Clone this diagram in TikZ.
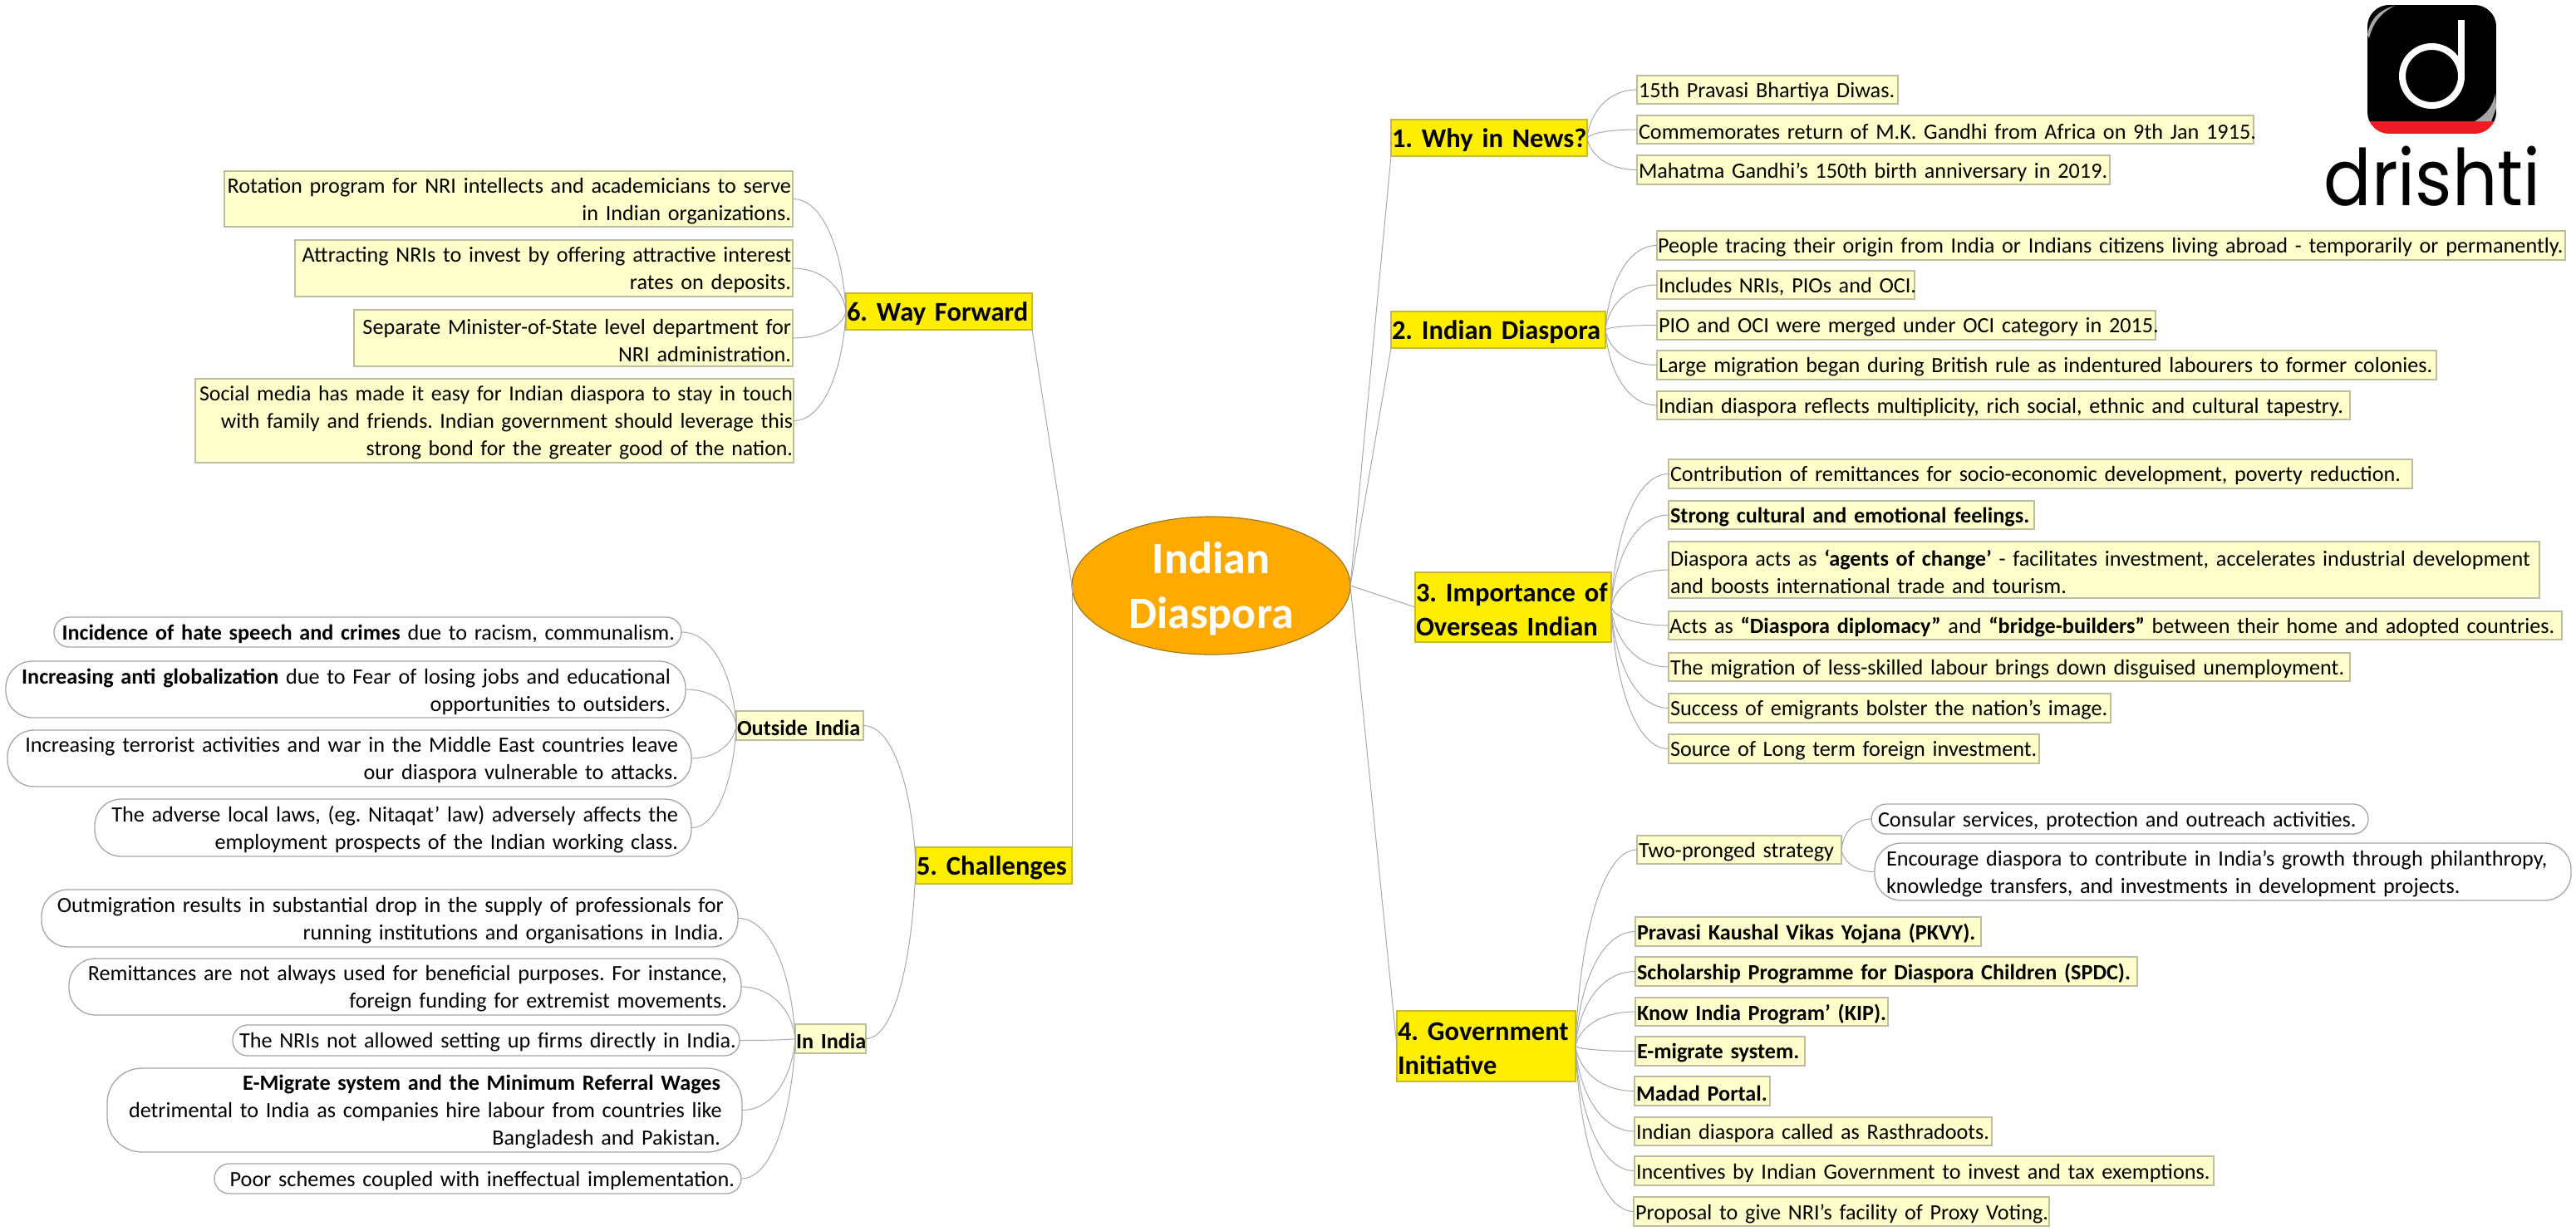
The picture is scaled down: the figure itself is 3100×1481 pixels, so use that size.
\documentclass[tikz,border=0pt]{standalone}
\usepackage{fontspec}
\setmainfont[WordSpace=0.9]{Carlito}
\newfontfamily\logofont{Poppins}
\usetikzlibrary{calc,shapes.geometric}
\definecolor{paleY}{HTML}{FFFFCC}
\definecolor{paleB}{HTML}{BDBD9F}
\definecolor{brY}{HTML}{FFEE00}
\definecolor{brB}{HTML}{C8B840}
\definecolor{rlB}{HTML}{A6A6A6}
\definecolor{lnk}{HTML}{A8A8A8}
\definecolor{orng}{HTML}{FFAA00}
\definecolor{orngB}{HTML}{9A7A20}
\definecolor{logoR}{HTML}{ED1C24}
\newcommand{\bx}[8]{%
  \pgfmathsetmacro\bxw{#5-#3-2*#7}%
  \node[#1,text width=\bxw pt,inner xsep=#7 pt,minimum height={(#6-#4)*1pt}] (#2) at ({(#3+#5)/2},{(#4+#6)/2}) {#8};}
\newcommand{\lkc}[2]{\draw[link] let \p1=(#1),\p2=(#2) in (\p1) .. controls ({\x1+0.05*(\x2-\x1)},{\y1+0.5*(\y2-\y1)}) and ({\x1+0.4*(\x2-\x1)},\y2) .. (\p2);}
\newcommand{\ml}[1]{\raisebox{-2.5pt}[\height][\depth]{\mbox{#1}}}
\tikzset{
  base/.style={inner ysep=0pt,outer sep=0pt,font=\fontsize{26.2}{33}\selectfont\frenchspacing,text=black},
  leaf/.style={base,draw=paleB,fill=paleY,line width=1.5pt},
  rleaf/.style={base,draw=rlB,fill=white,line width=1.3pt},
  branch/.style={base,draw=brB,fill=brY,line width=1.5pt,font=\fontsize{32.5}{41}\selectfont\bfseries\frenchspacing},
  link/.style={draw=lnk,line width=1pt},
}
\begin{document}
\begin{tikzpicture}[x=1pt,y=-1pt]
\useasboundingbox (0,0) rectangle (3100,1481);
% centre
\node[ellipse,draw=orngB,line width=1.2pt,fill=orng,minimum width=335pt,minimum height=166pt,inner sep=0pt,outer sep=0pt,text=white,align=center,text depth=0pt,font=\fontsize{54}{66}\selectfont\bfseries] (root) at (1457.5,705) {Indian\\Diaspora};
% branches
\bx{branch,align=left}{why}{1674}{144}{1910}{188}{1}{\ml{1. Why in News?}}
\bx{branch,align=left}{dia}{1674}{375}{1932}{419}{1}{\ml{2. Indian Diaspora}}
\bx{branch,align=left}{imp}{1703}{689}{1939}{773}{1}{\ml{3. Importance of}\\\ml{Overseas Indian}}
\bx{branch,align=left}{gov}{1681}{1217}{1896}{1302}{1}{\ml{4. Government}\\\ml{Initiative}}
\bx{branch,align=left}{cha}{1102}{1020}{1290}{1064}{1}{\ml{5. Challenges}}
\bx{branch,align=left}{way}{1018}{353}{1242}{397}{1}{\ml{6. Way Forward}}
% 1
\bx{leaf,align=left}{a1}{1970}{91}{2284}{125}{2}{\ml{15th Pravasi Bhartiya Diwas.}}
\bx{leaf,align=left}{a2}{1970}{139}{2712}{173}{2}{\ml{Commemorates return of M.K. Gandhi from Africa on 9th Jan 1915.}}
\bx{leaf,align=left}{a3}{1970}{187}{2539}{222}{2}{\ml{Mahatma Gandhi’s 150th birth anniversary in 2019.}}
% 2
\bx{leaf,align=left}{b1}{1994}{278}{3087}{313}{1}{\ml{People tracing their origin from India or Indians citizens living abroad - temporarily or permanently.}}
\bx{leaf,align=left}{b2}{1994}{326}{2304}{360}{2}{\ml{Includes NRIs, PIOs and OCI.}}
\bx{leaf,align=left}{b3}{1994}{374}{2594}{409}{2}{\ml{PIO and OCI were merged under OCI category in 2015.}}
\bx{leaf,align=left}{b4}{1994}{422}{2932}{457}{2}{\ml{Large migration began during British rule as indentured labourers to former colonies.}}
\bx{leaf,align=left}{b5}{1994}{471}{2828}{505}{2}{\ml{Indian diaspora reflects multiplicity, rich social, ethnic and cultural tapestry.}}
% 3
\bx{leaf,align=left}{c1}{2008}{553}{2903}{588}{2}{\ml{Contribution of remittances for socio-economic development, poverty reduction.}}
\bx{leaf,align=left}{c2}{2008}{603}{2448}{637}{2}{\ml{\textbf{Strong cultural and emotional feelings.}}}
\bx{leaf,align=left}{c3}{2008}{652}{3056}{720}{2}{\ml{Diaspora acts as \textbf{‘agents of change’} - facilitates investment, accelerates industrial development}\\\ml{and boosts international trade and tourism.}}
\bx{leaf,align=left}{c4}{2008}{736}{3083}{770}{1}{\ml{Acts as \textbf{“Diaspora diplomacy”} and \textbf{“bridge-builders”} between their home and adopted countries.}}
\bx{leaf,align=left}{c5}{2008}{786}{2828}{820}{2}{\ml{The migration of less-skilled labour brings down disguised unemployment.}}
\bx{leaf,align=left}{c6}{2008}{835}{2540}{870}{2}{\ml{Success of emigrants bolster the nation’s image.}}
\bx{leaf,align=left}{c7}{2008}{884}{2454}{919}{2}{\ml{Source of Long term foreign investment.}}
% 4
\bx{leaf,align=left}{d0}{1970}{1006}{2216}{1040}{2}{\ml{Two-pronged strategy}}
\bx{rleaf,rounded corners=18pt,align=left}{d01}{2252}{968}{2850}{1004}{8}{\ml{Consular services, protection and outreach activities.}}
\bx{rleaf,rounded corners=32pt,align=left}{d02}{2256}{1015}{3094}{1084}{14}{\ml{Encourage diaspora to contribute in India’s growth through philanthropy,}\\\ml{knowledge transfers, and investments in development projects.}}
\bx{leaf,align=left}{d1}{1968}{1104}{2384}{1139}{2}{\ml{\textbf{Pravasi Kaushal Vikas Yojana (PKVY).}}}
\bx{leaf,align=left}{d2}{1968}{1152}{2572}{1187}{2}{\ml{\textbf{Scholarship Programme for Diaspora Children (SPDC).}}}
\bx{leaf,align=left}{d3}{1968}{1201}{2272}{1235}{2}{\ml{\textbf{Know India Program’ (KIP).}}}
\bx{leaf,align=left}{d4}{1968}{1248}{2172}{1283}{2}{\ml{\textbf{E-migrate system.}}}
\bx{leaf,align=left}{d5}{1967}{1296}{2130}{1331}{2}{\ml{\textbf{Madad Portal.}}}
\bx{leaf,align=left}{d6}{1967}{1345}{2397}{1379}{2}{\ml{Indian diaspora called as Rasthradoots.}}
\bx{leaf,align=left}{d7}{1967}{1392}{2664}{1427}{2}{\ml{Incentives by Indian Government to invest and tax exemptions.}}
\bx{leaf,align=left}{d8}{1966}{1441}{2466}{1476}{2}{\ml{Proposal to give NRI’s facility of Proxy Voting.}}
% 5
\bx{leaf,align=left}{e0}{886}{856}{1039}{891}{1}{\ml{\textbf{Outside India}}}
\bx{leaf,align=left}{f0}{957}{1233}{1042}{1268}{1}{\ml{\textbf{In India}}}
\bx{rleaf,rounded corners=18pt,align=right}{e1}{65}{743}{820}{779}{8}{\ml{\textbf{Incidence of hate speech and crimes} due to racism, communalism.}}
\bx{rleaf,rounded corners=32pt,align=right}{e2}{7}{796}{825}{864}{18}{\ml{\textbf{Increasing anti globalization} due to Fear of losing jobs and educational}\\\ml{opportunities to outsiders.}}
\bx{rleaf,rounded corners=32pt,align=right}{e3}{9}{879}{832}{947}{16}{\ml{Increasing terrorist activities and war in the Middle East countries leave}\\\ml{our diaspora vulnerable to attacks.}}
\bx{rleaf,rounded corners=32pt,align=right}{e4}{114}{962}{832}{1031}{16}{\ml{The adverse local laws, (eg. Nitaqat' law) adversely affects the}\\\ml{employment prospects of the Indian working class.}}
\bx{rleaf,rounded corners=32pt,align=right}{f1}{50}{1071}{888}{1140}{17}{\ml{Outmigration results in substantial drop in the supply of professionals for}\\\ml{running institutions and organisations in India.}}
\bx{rleaf,rounded corners=32pt,align=right}{f2}{83}{1154}{892}{1222}{17}{\ml{Remittances are not always used for beneficial purposes. For instance,}\\\ml{foreign funding for extremist movements.}}
\bx{rleaf,rounded corners=18pt,align=right}{f3}{280}{1234}{890}{1271}{8}{\ml{The NRIs not allowed setting up firms directly in India.}}
\bx{rleaf,rounded corners=42pt,align=right}{f4}{129}{1286}{893}{1387}{26}{\ml{\textbf{E-Migrate system and the Minimum Referral Wages}}\\\ml{detrimental to India as companies hire labour from countries like}\\\ml{Bangladesh and Pakistan.}}
\bx{rleaf,rounded corners=18pt,align=right}{f5}{258}{1401}{892}{1437}{8}{\ml{Poor schemes coupled with ineffectual implementation.}}
% 6
\bx{leaf,align=right}{g1}{270}{206}{954}{273}{2}{\ml{Rotation program for NRI intellects and academicians to serve}\\\ml{in Indian organizations.}}
\bx{leaf,align=right}{g2}{355}{289}{954}{357}{2}{\ml{Attracting NRIs to invest by offering attractive interest}\\\ml{rates on deposits.}}
\bx{leaf,align=right}{g3}{426}{373}{954}{441}{2}{\ml{Separate Minister-of-State level department for}\\\ml{NRI administration.}}
\bx{leaf,align=right,font=\fontsize{25.8}{33}\selectfont\frenchspacing}{g4}{235}{456}{955}{557}{1}{\ml{Social media has made it easy for Indian diaspora to stay in touch}\\\ml{with family and friends. Indian government should leverage this}\\\ml{strong bond for the greater good of the nation.}}
% root links
\draw[link] (root.east) -- (why.south west);
\draw[link] (root.east) -- (dia.south west);
\draw[link] (root.east) -- (imp.west);
\draw[link] (root.east) -- (gov.west);
\draw[link] (root.west) -- (cha.north east);
\draw[link] (root.west) -- (way.south east);
% sub links
\foreach \c in {a1,a2,a3}{\lkc{why.east}{\c.west}}
\foreach \c in {b1,b2,b3,b4,b5}{\lkc{dia.east}{\c.west}}
\foreach \c in {c1,c2,c3,c4,c5,c6,c7}{\lkc{imp.east}{\c.west}}
\foreach \c in {d0,d1,d2,d3,d4,d5,d6,d7,d8}{\lkc{gov.east}{\c.west}}
\foreach \c in {d01,d02}{\lkc{d0.east}{\c.west}}
\foreach \c in {e0,f0}{\lkc{cha.west}{\c.east}}
\foreach \c in {e1,e2,e3,e4}{\lkc{e0.west}{\c.east}}
\foreach \c in {f1,f2,f3,f4,f5}{\lkc{f0.west}{\c.east}}
\foreach \c in {g1,g2,g3,g4}{\lkc{way.west}{\c.east}}
% logo
\begin{scope}
  \clip[rounded corners=26pt] (2849,6) rectangle (3004,161);
  \fill[black] (2849,6) rectangle (3004,146);
  \fill[logoR] (2849,146) rectangle (3004,161);
  \fill[gray!70] (2849,42) .. controls (2852,22) and (2865,11) .. (2882,7) .. controls (2866,15) and (2856,26) .. (2851,46) -- cycle;
  \fill[gray!70] (3003,112) .. controls (3000,128) and (2992,138) .. (2978,146) -- (2998,146) -- (3004,130) -- cycle;
\end{scope}
\draw[white,line width=8pt] (2926.5,91.5) circle (35.5);
\draw[white,line width=8pt] (2962,24) -- (2962,91.5);
\node[inner sep=0pt,xscale=.85,yscale=.94,transform shape,font=\logofont\fontsize{100}{100}\selectfont,text=black] (logotext) at (2927,212) {drishti};
\end{tikzpicture}
\end{document}
